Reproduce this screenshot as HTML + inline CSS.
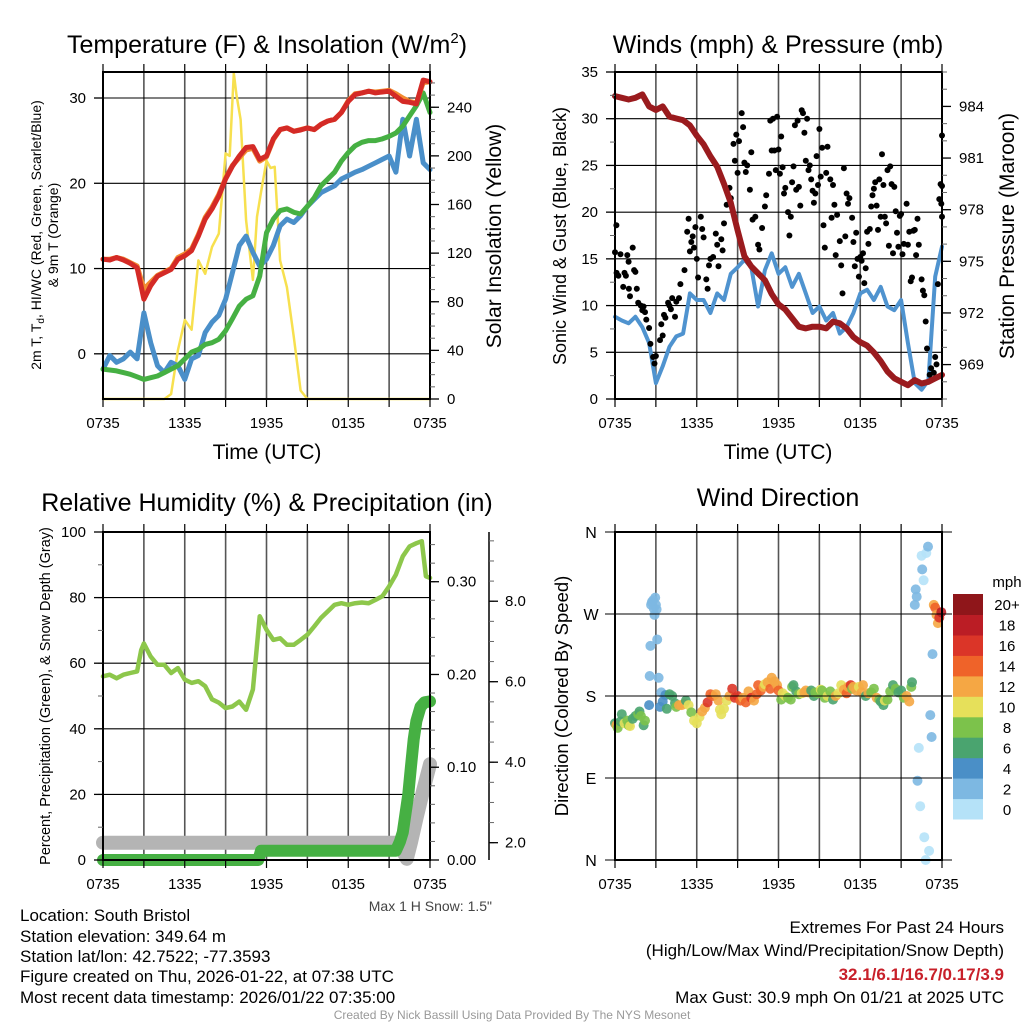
<!DOCTYPE html>
<html><head><meta charset="utf-8">
<style>
html,body{margin:0;padding:0;background:#fff;}
svg{display:block;font-family:"Liberation Sans",sans-serif;}
</style></head>
<body>
<svg id="fig" xmlns="http://www.w3.org/2000/svg" width="1024" height="1024" viewBox="0 0 1024 1024">
<rect x="0" y="0" width="1024" height="1024" fill="#fff"/>
<g id="layer-grid"></g>
<g id="layer-data"></g>
<g id="layer-axes"></g>

<text x="267" y="53" text-anchor="middle" font-size="25">Temperature (F) &amp; Insolation (W/m<tspan font-size="15" dy="-10">2</tspan><tspan dy="10">)</tspan></text>
<text x="778" y="53" text-anchor="middle" font-size="25">Winds (mph) &amp; Pressure (mb)</text>
<text x="267" y="511" text-anchor="middle" font-size="25">Relative Humidity (%) &amp; Precipitation (in)</text>
<text x="778" y="506" text-anchor="middle" font-size="25">Wind Direction</text>

<text x="267" y="459" text-anchor="middle" font-size="21">Time (UTC)</text>
<text x="778" y="459" text-anchor="middle" font-size="21">Time (UTC)</text>

<text transform="translate(41,235) rotate(-90)" text-anchor="middle" font-size="14">2m T, T<tspan font-size="10" dy="3">d</tspan><tspan dy="-3">, HI/WC (Red, Green, Scarlet/Blue)</tspan></text>
<text transform="translate(58,235) rotate(-90)" text-anchor="middle" font-size="14">&amp; 9m T (Orange)</text>
<text transform="translate(501,236) rotate(-90)" text-anchor="middle" font-size="21">Solar Insolation (Yellow)</text>
<text transform="translate(566,236) rotate(-90)" text-anchor="middle" font-size="18">Sonic Wind &amp; Gust (Blue, Black)</text>
<text transform="translate(1014,236) rotate(-90)" text-anchor="middle" font-size="21">Station Pressure (Maroon)</text>
<text transform="translate(50,696) rotate(-90)" text-anchor="middle" font-size="14.5">Percent, Precipitation (Green), &amp; Snow Depth (Gray)</text>
<text transform="translate(568,696) rotate(-90)" text-anchor="middle" font-size="18.5">Direction (Colored By Speed)</text>

<text x="492" y="911" text-anchor="end" font-size="14" fill="#444">Max 1 H Snow: 1.5"</text>

<g font-size="17">
<text x="20" y="921">Location: South Bristol</text>
<text x="20" y="942">Station elevation: 349.64 m</text>
<text x="20" y="962">Station lat/lon: 42.7522; -77.3593</text>
<text x="20" y="982">Figure created on Thu, 2026-01-22, at 07:38 UTC</text>
<text x="20" y="1003">Most recent data timestamp: 2026/01/22 07:35:00</text>
</g>
<g font-size="17" text-anchor="end">
<text x="1004" y="933">Extremes For Past 24 Hours</text>
<text x="1004" y="956">(High/Low/Max Wind/Precipitation/Snow Depth)</text>
<text x="1004" y="980" fill="#c8202a" font-weight="bold">32.1/6.1/16.7/0.17/3.9</text>
<text x="1004" y="1003">Max Gust: 30.9 mph On 01/21 at 2025 UTC</text>
</g>
<text x="512" y="1019" text-anchor="middle" font-size="12" fill="#999">Created By Nick Bassill Using Data Provided By The NYS Mesonet</text>
</svg>
<script>
// ===== Panel 1 data (hours since 0735) =====
var tHours = [0,0.5,1,1.5,2,2.5,3,3.5,4,4.5,5,5.5,6,6.5,7,7.5,8,8.5,9,9.5,10,10.5,11,11.5,12,12.5,13,13.5,14,14.5,15,15.5,16,16.5,17,17.5,18,18.5,19,19.5,20,20.5,21,21.5,22,22.5,23,23.5,24];
var tempRed = [11.1,11.0,11.3,11.0,10.6,10.1,6.4,8.0,9.1,9.5,9.9,11.1,11.5,12.1,13.8,15.8,17.0,18.5,20.5,22.0,23.2,24.2,24.3,22.8,23.2,25.2,26.3,26.5,26.1,26.25,26.5,26.3,26.9,27.3,27.5,28.3,29.6,30.4,30.6,30.8,30.6,30.7,30.8,30.2,29.6,29.5,29.3,32.1,31.9];
var temp9m = [11.1,11.1,11.3,11.1,10.7,10.3,7.6,8.4,9.2,9.6,10.0,11.3,11.7,12.3,14.0,16.0,17.2,18.7,20.6,22.1,23.0,23.9,24.1,22.6,23.1,25.1,26.3,26.5,26.1,26.3,26.5,26.3,26.9,27.3,27.5,28.3,29.7,30.5,30.6,30.8,30.7,30.8,30.9,30.5,30.0,29.6,29.4,31.8,31.9];
var dewGreen = [-1.8,-1.9,-2.0,-2.2,-2.4,-2.7,-3.0,-2.8,-2.6,-2.2,-1.8,-1.4,-0.6,0.2,0.5,1.1,1.3,1.7,2.7,4.1,5.6,6.4,6.8,9.1,14.2,15.8,16.8,17.0,16.6,16.4,17.3,18.3,19.7,20.5,21.3,22.6,23.6,24.4,24.8,25.0,25.0,25.2,25.5,25.9,26.7,27.9,29.1,30.6,28.3];
var chillBlue = [-1.8,-0.2,-1.0,-0.6,0.2,-0.6,4.8,1.3,-1.4,-2.2,-1.0,-1.4,-3.0,-0.6,-0.2,2.5,3.7,4.5,6.4,9.5,12.7,13.8,11.9,10.3,11.1,12.7,15.0,15.8,15.4,16.2,17.3,18.1,18.9,19.3,19.7,20.5,20.9,21.3,21.6,22.0,22.4,22.8,23.2,21.3,27.5,23.2,27.5,22.4,21.6];
var solarTimes = [0,4.5,5,5.5,6,6.5,7,7.5,8,8.5,9,9.3,9.6,9.8,10.1,10.5,11,11.3,11.6,12,12.3,12.6,13,13.5,14,14.5,15,24];
var solarValues = [0,0,4,40,65,57,114,103,125,136,202,200,268,250,230,147,98,150,170,196,190,191,114,92,51,7,0,0];
var tempTicks = [0,10,20,30];
var solarTicks = [0,40,80,120,160,200,240];
var timeTickLabels = ["0735","1335","1935","0135","0735"];

// ===== Panel 2 data =====
var pressure = [984.6,984.5,984.4,984.5,984.7,984.0,983.8,984.0,983.4,983.3,983.2,982.9,982.3,981.8,981.1,980.5,979.5,978.4,976.8,975.3,974.7,974.3,973.9,973.1,972.5,972.2,971.7,971.2,971.1,971.2,971.2,971.1,971.5,971.4,971.1,970.6,970.3,970.1,969.7,969.2,968.6,968.2,968.0,967.8,968.1,967.9,968.0,968.2,968.4];
var windSpeed = [8.8,8.4,8.1,8.8,7.7,6.0,1.7,3.5,5.6,6.7,7.0,11.3,10.6,10.6,9.2,11.3,10.6,13.4,14.1,14.9,14.1,9.9,13.8,15.6,13.4,14.1,12.0,13.4,11.3,9.2,9.9,8.4,9.2,7.0,7.7,9.2,11.3,11.7,10.6,12.0,9.9,9.5,10.6,6.0,1.7,1.0,2.0,13.1,16.3];
var gustTimes = [0.0,0.1,0.12,0.25,0.4,0.6,0.7,0.8,0.9,1.0,1.02,1.1,1.3,1.4,1.5,1.6,1.7,1.9,2.0,2.1,2.2,2.3,2.5,2.6,2.8,2.9,3.0,3.3,3.4,3.5,3.6,3.7,3.9,4.0,4.1,4.2,4.4,4.5,4.7,4.8,5.1,5.3,5.4,5.5,5.6,5.7,5.8,5.9,6.0,6.1,6.3,6.4,6.5,6.7,6.8,6.9,7.0,7.2,7.4,7.5,7.6,7.8,7.9,8.0,8.2,8.4,8.5,8.7,8.8,8.9,9.0,9.1,9.3,9.4,9.5,9.6,9.7,9.9,10.0,10.1,10.3,10.5,10.6,10.8,11.0,11.1,11.3,11.4,11.5,11.6,11.7,11.8,11.9,12.0,12.1,12.2,12.3,12.4,12.5,12.7,12.8,12.9,13.0,13.1,13.2,13.3,13.4,13.5,13.6,13.7,13.8,13.9,14.0,14.1,14.2,14.3,14.4,14.5,14.6,14.7,14.8,14.9,15.0,15.1,15.2,15.3,15.4,15.5,15.6,15.8,15.9,16.0,16.1,16.2,16.3,16.5,16.6,16.7,16.8,16.9,17.0,17.1,17.2,17.4,17.5,17.6,17.7,17.8,17.9,18.0,18.1,18.2,18.3,18.4,18.5,18.6,18.7,18.8,18.9,19.0,19.1,19.2,19.3,19.4,19.5,19.6,19.7,19.8,19.9,20.0,20.1,20.2,20.3,20.4,20.5,20.6,20.7,20.8,20.9,21.0,21.1,21.2,21.4,21.5,21.6,21.7,21.8,21.9,22.0,22.1,22.2,22.3,22.5,22.6,22.7,22.8,22.9,23.1,23.2,23.4,23.5,23.6,23.7,23.8,23.9,23.95,24.0,24.0,24.0];
var gustValues = [15.7,18.6,13.5,13.2,15.5,12.0,13.5,13.2,15.4,14.7,11.8,11.0,16.2,13.8,13.6,11.8,10.3,10.0,9.5,9.9,9.3,8.5,7.6,5.9,4.5,3.8,4.6,6.3,8.0,6.8,9.0,8.7,10.3,10.0,9.6,10.8,8.8,10.4,10.8,12.3,13.8,17.9,19.3,15.8,16.8,17.4,16.2,18.4,15.0,13.0,19.5,18.2,17.3,12.8,11.8,14.3,15.0,15.2,17.7,16.5,14.2,17.1,15.9,18.8,20.8,22.6,21.5,27.3,25.5,28.3,24.2,27.6,30.6,29.1,25.3,24.3,25.0,22.4,26.4,19.2,19.5,16.5,16.0,18.3,20.6,21.8,24.1,29.8,26.6,30.0,26.6,24.5,30.2,26.7,24.1,28.1,24.8,22.0,22.6,20.0,17.5,19.5,23.2,24.9,29.3,22.4,29.8,22.7,20.7,30.9,30.6,28.5,25.5,30.0,24.5,25.0,23.5,22.3,21.0,22.0,26.0,22.9,28.9,23.8,26.9,18.6,16.2,24.2,27.0,23.5,19.4,22.9,20.8,15.4,19.7,16.9,14.3,11.3,24.7,17.4,22.0,20.9,21.5,19.4,16.8,14.2,17.8,15.0,13.1,15.2,14.8,15.6,12.4,14.0,17.9,16.6,18.2,20.6,21.8,22.5,23.2,20.7,18.1,23.5,19.5,26.2,22.9,19.5,18.8,24.5,16.4,24.9,23.0,15.6,22.7,20.1,17.8,16.3,19.6,19.8,15.5,16.6,20.9,16.5,17.9,12.6,13.0,18.0,18.1,15.4,19.3,16.5,12.8,11.6,11.1,8.3,5.4,2.6,3.3,2.8,4.5,3.7,12.3,21.4,23.0,20.9,19.5,28.2,22.8];
var windTicks = [0,5,10,15,20,25,30,35];
var pressureTicks = [969,972,975,978,981,984];

// ===== Panel 3 data =====
var rhTimes = [0,0.5,1,1.5,2,2.5,2.8,3,3.5,4,4.5,5,5.5,6,6.5,7,7.5,8,8.5,9,9.5,10,10.5,11,11.5,12,12.5,13,13.5,14,14.5,15,15.5,16,16.5,17,17.5,18,18.5,19,19.5,20,20.5,21,21.5,22,22.5,23,23.4,23.7,24];
var rhValues = [56,56.5,55.4,56.5,57,57.5,64,66,62,59.5,59.5,57,58.5,55,54,54.5,53,49,48,46.3,46.8,48.3,45.8,52,74.3,70.2,67.1,67.6,65.6,65.6,67.1,68.7,71.2,73.8,75.8,77.8,78.3,77.8,78.3,78.5,78.3,79.3,80.4,83.4,87,92.6,95.6,96.6,97.2,86.5,86];
var precipTimes = [0,11.4,11.6,21.5,21.8,22.0,22.2,22.4,22.6,22.8,23.0,23.3,23.6,24];
var precipValues = [0,0,0.01,0.01,0.02,0.03,0.05,0.07,0.10,0.13,0.15,0.165,0.17,0.171];
var snowTimes = [0,21.5,22.0,22.3,22.6,23.0,23.5,24];
var snowValues = [2.0,2.0,1.8,1.6,2.0,2.6,3.3,3.95];
var rhTicks = [0,20,40,60,80,100];
var precipTicks = [0,0.1,0.2,0.3];
var precipTickLabels = ["0.00","0.10","0.20","0.30"];
var snowTicks = [2,4,6,8];
var snowTickLabels = ["2.0","4.0","6.0","8.0"];

// ===== Panel 4 data =====
var dirTimes = [0.0,0.1,0.2,0.4,0.5,0.7,0.9,1.0,1.1,1.3,1.5,1.7,1.8,1.9,2.1,2.2,2.5,2.65,2.7,2.8,2.85,2.95,3.0,2.9,3.05,2.6,3.1,2.55,3.2,3.3,3.4,3.5,3.7,3.8,4.0,4.2,4.4,4.5,4.7,4.9,5.1,5.2,5.4,5.6,5.8,6.0,6.2,6.4,6.6,6.8,7.0,7.2,7.4,7.6,7.7,7.8,8.0,8.2,8.4,8.6,8.8,9.0,9.2,9.4,9.6,9.8,10.0,10.2,10.4,10.5,10.7,10.9,11.0,11.2,11.4,11.5,11.7,11.9,12.0,12.2,12.3,12.5,12.7,12.9,13.0,13.1,13.3,13.5,13.7,13.9,14.0,14.2,14.4,14.6,14.7,14.9,15.1,15.2,15.4,15.6,15.8,16.0,16.2,16.4,16.6,16.8,17.0,17.1,17.3,17.4,17.5,17.7,17.9,18.1,18.2,18.4,18.6,18.8,19.0,19.2,19.4,19.5,19.7,19.8,20.0,20.2,20.4,20.6,20.8,21.0,21.2,21.4,21.6,21.75,21.8,22.0,22.07,22.14,22.2,22.3,22.4,22.5,22.55,22.65,22.7,22.8,22.85,22.97,23.05,23.14,23.24,23.3,23.4,23.5,23.6,23.7,23.8,23.95];
var dirValues = [150,148,145,152,160,150,153,148,147,155,158,160,163,158,148,153,170,280,283,285,276,288,280,269,275,235,242,202,200,168,184,174,181,166,182,180,172,168,170,170,172,175,170,162,153,150,157,163,167,173,182,180,182,175,165,160,166,175,180,188,178,180,175,178,173,185,178,175,182,192,186,190,193,195,188,200,196,192,186,176,183,180,178,176,190,192,185,182,183,184,186,184,186,180,184,183,187,186,178,180,185,176,180,183,192,187,183,190,192,188,190,186,190,184,192,180,183,184,188,178,176,174,170,175,176,185,192,188,184,186,178,180,174,190,195,280,297,289,87,123,59,334,319,307,25,0,337,344,10,159,135,226,280,277,269,260,266,272];
var dirSpeeds = [7,12,8,6,6,10,9,8,10,7,6,8,6,8,7,8,5,3,3,2,3,3,3,3,3,2,3,3,3,4,2,4,4,6,6,6,7,9,12,12,12,7,10,8,10,10,10,13,13,16,15,15,12,13,10,10,10,10,13,16,16,16,15,13,14,12,16,13,15,15,14,13,11,12,14,12,13,12,14,8,10,10,8,8,8,7,6,9,10,12,12,12,7,6,9,8,10,9,9,10,9,7,12,10,10,12,15,12,16,8,13,13,10,12,12,7,12,8,9,12,9,6,7,10,9,9,6,8,7,6,8,12,12,9,6,3,3,3,3,1,1,1,3,1,1,1,1,3,1,3,3,3,12,14,13,12,16,18];
var dirTickLabels = ["N","E","S","W","N"];
var dirTicks = [0,90,180,270,360];
var speedBins = ["0","2","4","6","8","10","12","14","16","18","20+"];
var speedColors = ["#b5e2f8","#7db8e2","#4a8fc7","#4aa46f","#7cc24b","#e6e05a","#f5a744","#ef6329","#db3528","#bb1d25","#8f161a"];

// ===== helpers =====
var NS = "http://www.w3.org/2000/svg";
var gGrid = document.getElementById('layer-grid');
var gData = document.getElementById('layer-data');
var gAxes = document.getElementById('layer-axes');
function el(tag, parent) { var e = document.createElementNS(NS, tag); parent.appendChild(e); return e; }
function lin(d0, d1, r0, r1) { return function (v) { return r0 + (v - d0) * (r1 - r0) / (d1 - d0); }; }
var hoursTicks = [0,3,6,9,12,15,18,21,24];

function panelFrame(px0, px1, py0, py1, name, gridYs, yScale) {
  var xs = lin(0, 24, px0, px1);
  hoursTicks.forEach(function (h) {
    var l = el('line', gGrid);
    
    
    l.setAttribute('x1', xs(h)); l.setAttribute('x2', xs(h));
    l.setAttribute('y1', py0); l.setAttribute('y2', py1);
    l.setAttribute('stroke', '#555'); l.setAttribute('stroke-width', '1.6');
    var t1 = el('line', gAxes);
    
    
    t1.setAttribute('x1', xs(h)); t1.setAttribute('x2', xs(h));
    t1.setAttribute('y1', py1); t1.setAttribute('y2', py1 + 8);
    t1.setAttribute('stroke', '#000'); t1.setAttribute('stroke-width', '1.2');
    var t2 = el('line', gAxes);
    
    
    t2.setAttribute('x1', xs(h)); t2.setAttribute('x2', xs(h));
    t2.setAttribute('y1', py0 - 8); t2.setAttribute('y2', py0);
    t2.setAttribute('stroke', '#000'); t2.setAttribute('stroke-width', '1.2');
  });
  timeTickLabels.forEach(function (lab, i) {
    var t = el('text', gAxes);
    
    
    t.setAttribute('x', xs(i * 6)); t.setAttribute('y', py1 + 29);
    t.setAttribute('text-anchor', 'middle'); t.setAttribute('font-size', '15');
    t.textContent = lab;
  });
  gridYs.forEach(function (v) {
    var l = el('line', gGrid);
    
    
    l.setAttribute('x1', px0); l.setAttribute('x2', px1);
    l.setAttribute('y1', yScale(v)); l.setAttribute('y2', yScale(v));
    l.setAttribute('stroke', '#000'); l.setAttribute('stroke-width', '1.1');
  });
  var r = el('rect', gAxes);
  
  
  r.setAttribute('x', px0); r.setAttribute('y', py0);
  r.setAttribute('width', px1 - px0); r.setAttribute('height', py1 - py0);
  r.setAttribute('fill', 'none'); r.setAttribute('stroke', '#000'); r.setAttribute('stroke-width', '2');
  return xs;
}

function axisTicks(xPos, dir, ticks, labels, scale, name, minor, minorScaleRange, labelOffset) {
  if (minor) {
    for (var v = minorScaleRange[0]; v <= minorScaleRange[1] + 1e-9; v += minor) {
      var m = el('line', gAxes);
      
      
      m.setAttribute('x1', xPos); m.setAttribute('x2', xPos + dir * 5);
      m.setAttribute('y1', scale(v)); m.setAttribute('y2', scale(v));
      m.setAttribute('stroke', '#666'); m.setAttribute('stroke-width', '1');
    }
  }
  ticks.forEach(function (v, i) {
    var l = el('line', gAxes);
    
    
    l.setAttribute('x1', xPos); l.setAttribute('x2', xPos + dir * 9);
    l.setAttribute('y1', scale(v)); l.setAttribute('y2', scale(v));
    l.setAttribute('stroke', '#000'); l.setAttribute('stroke-width', '1.3');
    var t = el('text', gAxes);
    
    
    t.setAttribute('x', xPos + dir * labelOffset); t.setAttribute('y', scale(v) + 5);
    t.setAttribute('text-anchor', dir < 0 ? 'end' : 'start'); t.setAttribute('font-size', '15');
    t.textContent = labels ? labels[i] : String(v);
  });
}

function polyline(xs, ys, times, vals, color, width, name, parent) {
  var p = el('polyline', parent || gData);
  
  
  p.setAttribute('points', times.map(function (t, i) { return xs(t).toFixed(1) + ',' + ys(vals[i]).toFixed(1); }).join(' '));
  p.setAttribute('fill', 'none'); p.setAttribute('stroke', color); p.setAttribute('stroke-width', width);
  p.setAttribute('stroke-linejoin', 'round'); p.setAttribute('stroke-linecap', 'round');
  return p;
}

// ===== Panel 1 =====
(function () {
  var y = lin(-5.3, 33.05, 399, 72);
  var yR = lin(0, 269, 399, 72);
  var xs = panelFrame(103, 430, 72, 399, 'temperature', tempTicks, y);
  axisTicks(103, -1, tempTicks, null, y, 'temperature-y', 0, null, 17);
  axisTicks(430, 1, solarTicks, null, yR, 'insolation-y', 10, [0, 260], 17);
  polyline(xs, yR, solarTimes, solarValues, '#f7e04f', 2.5, 'solar-insolation-line');
  polyline(xs, y, tHours, chillBlue, '#4a8fc9', 5, 'wind-chill-line');
  polyline(xs, y, tHours, dewGreen, '#46b043', 5, 'dewpoint-line');
  polyline(xs, y, tHours, temp9m, '#f28b30', 5, 'temperature-9m-line');
  polyline(xs, y, tHours, tempRed, '#d42a26', 5, 'temperature-2m-line');
})();

// ===== Panel 2 =====
(function () {
  var y = lin(0, 35, 399, 72);
  var yR = lin(967.0, 986.0, 399, 72);
  var xs = panelFrame(615, 942, 72, 399, 'winds', windTicks, y);
  axisTicks(615, -1, windTicks, null, y, 'wind-y', 2.5, [0, 35], 17);
  axisTicks(942, 1, pressureTicks, null, yR, 'pressure-y', 1, [967, 986], 17);
  polyline(xs, y, tHours, windSpeed, '#4f93cf', 4, 'sonic-wind-line');
  gustTimes.forEach(function (t, i) {
    var c = el('circle', gData);
    
    
    c.setAttribute('cx', xs(t).toFixed(1)); c.setAttribute('cy', y(gustValues[i]).toFixed(1));
    c.setAttribute('r', '3'); c.setAttribute('fill', '#000');
  });
  polyline(xs, yR, tHours, pressure, '#9a1b1e', 6, 'pressure-line');
})();

// ===== Panel 3 =====
(function () {
  var y = lin(0, 100, 860, 532);
  var yP = lin(0, 0.3536, 860, 532);
  var yS = lin(1.57, 9.72, 860, 532);
  var xs = panelFrame(103, 430, 532, 860, 'humidity', rhTicks, y);
  axisTicks(103, -1, rhTicks, null, y, 'humidity-y', 10, [0, 100], 17);
  axisTicks(430, 1, precipTicks, precipTickLabels, yP, 'precip-y', 0.02, [0, 0.34], 17);
  var ax = el('line', gAxes);
  
  
  ax.setAttribute('x1', 489); ax.setAttribute('x2', 489); ax.setAttribute('y1', 532); ax.setAttribute('y2', 860);
  ax.setAttribute('stroke', '#000'); ax.setAttribute('stroke-width', '1.5');
  axisTicks(489, 1, snowTicks, snowTickLabels, yS, 'snow-y', 0.5, [2, 9.5], 16);
  polyline(xs, yS, snowTimes, snowValues, '#b4b4b4', 14, 'snow-depth-points');
  polyline(xs, yP, precipTimes, precipValues, '#46b043', 12, 'precipitation-points');
  polyline(xs, y, rhTimes, rhValues, '#8dc74b', 4.5, 'relative-humidity-line');
})();

// ===== Panel 4 =====
(function () {
  var y = lin(0, 360, 860, 532);
  var xs = panelFrame(615, 942, 532, 860, 'direction', dirTicks, y);
  dirTicks.forEach(function (v, i) {
    var l = el('line', gAxes);
    
    
    l.setAttribute('x1', 605); l.setAttribute('x2', 952);
    l.setAttribute('y1', y(v)); l.setAttribute('y2', y(v));
    l.setAttribute('stroke', '#000'); l.setAttribute('stroke-width', '1.1');
    var t = el('text', gAxes);
    
    
    t.setAttribute('x', 591); t.setAttribute('y', y(v) + 6);
    t.setAttribute('text-anchor', 'middle'); t.setAttribute('font-size', '16');
    t.textContent = dirTickLabels[i];
  });
  dirTimes.forEach(function (t, i) {
    var s = dirSpeeds[i];
    var idx = Math.min(10, Math.floor(s / 2));
    var c = el('circle', gData);
    
    
    c.setAttribute('cx', xs(t).toFixed(1)); c.setAttribute('cy', y(dirValues[i]).toFixed(1));
    c.setAttribute('r', '5'); c.setAttribute('fill', speedColors[idx]); c.setAttribute('fill-opacity', '0.9');
  });
  var cbTop = 594, cbH = 225, n = speedBins.length, bh = cbH / n;
  speedBins.forEach(function (lab, i) {
    var yy = cbTop + cbH - (i + 1) * bh;
    var r = el('rect', gAxes);
    
    
    r.setAttribute('x', 953); r.setAttribute('y', yy.toFixed(1));
    r.setAttribute('width', 30); r.setAttribute('height', (bh + 0.5).toFixed(1));
    r.setAttribute('fill', speedColors[i]);
    var t = el('text', gAxes);
    
    
    t.setAttribute('x', 1007); t.setAttribute('y', (yy + bh / 2 + 6).toFixed(1));
    t.setAttribute('text-anchor', 'middle'); t.setAttribute('font-size', '15');
    t.textContent = lab;
  });
  var mt = el('text', gAxes);
  
  
  mt.setAttribute('x', 1007); mt.setAttribute('y', 587);
  mt.setAttribute('text-anchor', 'middle'); mt.setAttribute('font-size', '15');
  mt.textContent = 'mph';
})();
</script>
</body></html>
